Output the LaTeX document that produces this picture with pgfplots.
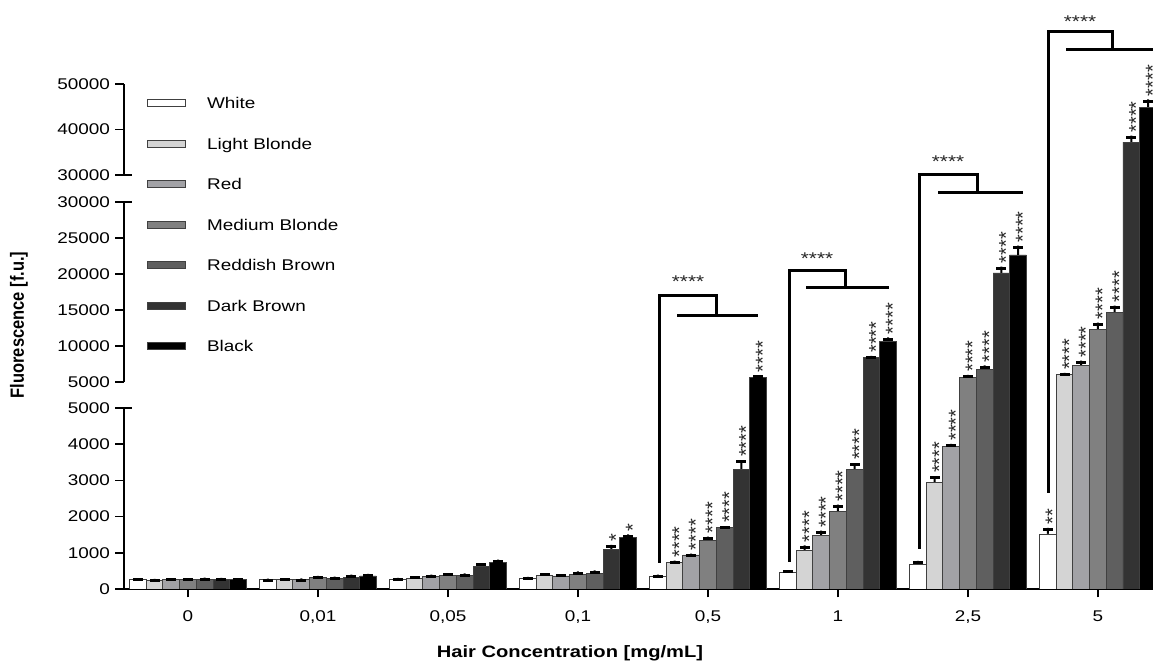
\documentclass[border=0pt]{standalone}
\usepackage{fontspec}
\setmainfont[FakeStretch=1.22]{Liberation Sans}
\newfontfamily\starfont{Liberation Sans}
\newfontfamily\boldrot{Liberation Sans Bold}
\usepackage{graphicx}
\usepackage{pgfplots}
\usepackage{pgfplotstable}
\pgfplotsset{compat=1.18}

\definecolor{cW}{HTML}{FFFFFF}
\definecolor{cLB}{HTML}{D4D4D4}
\definecolor{cR}{HTML}{A2A2A6}
\definecolor{cMB}{HTML}{808080}
\definecolor{cRB}{HTML}{5F5F5F}
\definecolor{cDB}{HTML}{333333}
\definecolor{cBK}{HTML}{000000}
\definecolor{edge}{HTML}{404040}

% broken y axis: 0-5000 | 5000-30000 | 30000-50000
\pgfplotsset{
  y coord trafo/.code={%
    \begingroup
    \pgfkeys{/pgf/fpu=true,/pgf/fpu/output format=fixed}%
    \pgfmathparse{(#1<=5000)*(#1*0.0362)+(#1>5000)*(#1<=30000)*(207+(#1-5000)*0.0072)+(#1>30000)*(414+(#1-30000)*0.00455)}%
    \global\let\brkres\pgfmathresult
    \endgroup
    \let\pgfmathresult\brkres
  },
  mylegimg/.style={legend image code/.code={\draw[##1,/tikz/.cd,line width=0.9pt] (0pt,-3pt) rectangle (38pt,4pt);}},
  stems/.style={forget plot, fill=black, draw=none, bar width=0.0154},
  caps/.style={forget plot, draw=none, fill=none, nodes near coords={},
    every node near coord/.append style={fill=black, draw=none, minimum width=10pt, minimum height=3pt, inner sep=0pt, anchor=north}},
  stars/.style={forget plot, draw=none, fill=none, nodes near coords,
    point meta=explicit symbolic,
    every node near coord/.append style={font=\starfont\fontsize{20}{20}\selectfont, xshift=11.5pt, rotate=90, anchor=base west, inner sep=3pt, text=black!85}},
}

% columns: group index, mean, error (+), significance
\pgfplotstableread{
x y e s
0 260 40 {}
1 250 40 {}
2 265 40 {}
3 295 40 {}
4 360 40 {}
5 470 50 {}
6 690 90 {}
7 1520 170 **
}\tW
\pgfplotstableread{
x y e s
0 240 40 {}
1 260 40 {}
2 295 60 {}
3 380 60 {}
4 745 40 ****
5 1075 130 ****
6 2950 170 ****
7 6100 150 ****
}\tLB
\pgfplotstableread{
x y e s
0 250 50 {}
1 265 30 {}
2 350 50 {}
3 360 50 {}
4 940 40 ****
5 1490 120 ****
6 3950 60 ****
7 7360 600 ****
}\tR
\pgfplotstableread{
x y e s
0 250 50 {}
1 310 50 {}
2 380 60 {}
3 405 80 {}
4 1350 100 ****
5 2130 200 ****
6 5690 300 ****
7 12360 900 ****
}\tMB
\pgfplotstableread{
x y e s
0 265 50 {}
1 285 60 {}
2 380 50 {}
3 435 80 {}
4 1690 50 ****
5 3310 170 ****
6 6800 500 ****
7 14720 900 ****
}\tRB
\pgfplotstableread{
x y e s
0 265 40 {}
1 330 70 {}
2 610 100 {}
3 1080 140 *
4 3310 250 ****
5 8470 150 ****
6 20140 900 ****
7 37250 1400 ****
}\tDB
\pgfplotstableread{
x y e s
0 250 50 {}
1 360 60 {}
2 730 80 {}
3 1430 80 *
4 5690 250 ****
5 10690 500 ****
6 22640 1300 ****
7 44900 1700 ****
}\tBK

\begin{document}
\begin{tikzpicture}[font=\fontsize{15.5}{18}\selectfont]
\begin{axis}[
  at={(0pt,0pt)}, anchor=south west,
  scale only axis, width=1029pt, height=589pt,
  xmin=-0.4923, xmax=7.4231,
  ymin=0, ymax=68461.54,
  ybar, bar width=0.1286,
  axis x line*=bottom, axis y line*=left,
  x axis line style={line width=2pt, black},
  y axis line style={draw=none},
  tick align=outside, major tick length=8.5pt,
  tick style={line width=1.6pt, black},
  xtick={0,1,2,3,4,5,6,7},
  xticklabels={0,{0,01},{0,05},{0,1},{0,5},1,{2,5},5},
  ytick={0,1000,2000,3000,4000,5000,5000.5,10000,15000,20000,25000,30000,30000.5,40000,50000},
  yticklabels={0,1000,2000,3000,4000,5000,5000,10000,15000,20000,25000,30000,30000,40000,50000},
  /pgf/number format/assume math mode=true,
  x tick label style={yshift=-10pt, font=\fontsize{15.5}{18}\selectfont},
  y tick label style={xshift=-2pt, font=\fontsize{15.5}{18}\selectfont},
  every axis plot post/.append style={mylegimg},
  legend style={at={(0.02235,0.8386)}, anchor=north west, draw=none, fill=none,
    inner sep=0pt, row sep=23.8pt, font=\fontsize{15.5}{18}\selectfont,
    /tikz/every odd column/.append style={column sep=19pt}},
  legend cell align=left,
]
% error bar stems (hidden below bar tops)
\addplot[stems, bar shift=-0.3857] table[x=x, y expr=\thisrow{y}+\thisrow{e}]{\tW};
\addplot[stems, bar shift=-0.2571] table[x=x, y expr=\thisrow{y}+\thisrow{e}]{\tLB};
\addplot[stems, bar shift=-0.1286] table[x=x, y expr=\thisrow{y}+\thisrow{e}]{\tR};
\addplot[stems, bar shift=0] table[x=x, y expr=\thisrow{y}+\thisrow{e}]{\tMB};
\addplot[stems, bar shift=0.1286] table[x=x, y expr=\thisrow{y}+\thisrow{e}]{\tRB};
\addplot[stems, bar shift=0.2571] table[x=x, y expr=\thisrow{y}+\thisrow{e}]{\tDB};
\addplot[stems, bar shift=0.3857] table[x=x, y expr=\thisrow{y}+\thisrow{e}]{\tBK};
% bars
\addplot[fill=cW, draw=edge, line width=0.9pt, bar shift=-0.3857] table[x=x,y=y]{\tW};
\addlegendentry{White}
\addplot[fill=cLB, draw=edge, line width=0.9pt, bar shift=-0.2571] table[x=x,y=y]{\tLB};
\addlegendentry{Light Blonde}
\addplot[fill=cR, draw=edge, line width=0.9pt, bar shift=-0.1286] table[x=x,y=y]{\tR};
\addlegendentry{Red}
\addplot[fill=cMB, draw=edge, line width=0.9pt, bar shift=0] table[x=x,y=y]{\tMB};
\addlegendentry{Medium Blonde}
\addplot[fill=cRB, draw=edge, line width=0.9pt, bar shift=0.1286] table[x=x,y=y]{\tRB};
\addlegendentry{Reddish Brown}
\addplot[fill=cDB, draw=edge, line width=0.9pt, bar shift=0.2571] table[x=x,y=y]{\tDB};
\addlegendentry{Dark Brown}
\addplot[fill=cBK, draw=edge, line width=0.9pt, bar shift=0.3857] table[x=x,y=y]{\tBK};
\addlegendentry{Black}
% error bar caps
\addplot[caps, bar shift=-0.3857] table[x=x, y expr=\thisrow{y}+\thisrow{e}]{\tW};
\addplot[caps, bar shift=-0.2571] table[x=x, y expr=\thisrow{y}+\thisrow{e}]{\tLB};
\addplot[caps, bar shift=-0.1286] table[x=x, y expr=\thisrow{y}+\thisrow{e}]{\tR};
\addplot[caps, bar shift=0] table[x=x, y expr=\thisrow{y}+\thisrow{e}]{\tMB};
\addplot[caps, bar shift=0.1286] table[x=x, y expr=\thisrow{y}+\thisrow{e}]{\tRB};
\addplot[caps, bar shift=0.2571] table[x=x, y expr=\thisrow{y}+\thisrow{e}]{\tDB};
\addplot[caps, bar shift=0.3857] table[x=x, y expr=\thisrow{y}+\thisrow{e}]{\tBK};
% significance stars
\addplot[stars, bar shift=-0.3857] table[x=x, y expr=\thisrow{y}+\thisrow{e}, meta=s]{\tW};
\addplot[stars, bar shift=-0.2571] table[x=x, y expr=\thisrow{y}+\thisrow{e}, meta=s]{\tLB};
\addplot[stars, bar shift=-0.1286] table[x=x, y expr=\thisrow{y}+\thisrow{e}, meta=s]{\tR};
\addplot[stars, bar shift=0] table[x=x, y expr=\thisrow{y}+\thisrow{e}, meta=s]{\tMB};
\addplot[stars, bar shift=0.1286] table[x=x, y expr=\thisrow{y}+\thisrow{e}, meta=s]{\tRB};
\addplot[stars, bar shift=0.2571] table[x=x, y expr=\thisrow{y}+\thisrow{e}, meta=s]{\tDB};
\addplot[stars, bar shift=0.3857] table[x=x, y expr=\thisrow{y}+\thisrow{e}, meta=s]{\tBK};
\end{axis}

\begin{scope}[x=1pt, y=1pt]
  % broken y axis segments
  \draw[line width=2pt, black] (0,0) -- (0,181);
  \draw[line width=2pt, black] (0,207) -- (0,387);
  \draw[line width=2pt, black] (0,414) -- (0,505);
  \draw[line width=1.6pt, black] (0,181) -- (8,181);
  \draw[line width=1.6pt, black] (0,387) -- (8,387);
  \draw[line width=1.6pt, black] (0,414) -- (8,414);
  % comparison brackets
  \begin{scope}[line width=3pt, black, line cap=butt, line join=miter]
    \draw (535,26) -- (535,293) -- (592,293) -- (592,273);
    \draw (553,273) -- (634,273);
    \draw (665,27) -- (665,318) -- (721,318) -- (721,301);
    \draw (682,301) -- (765,301);
    \draw (795,40) -- (795,414) -- (853,414) -- (853,396);
    \draw (814,396) -- (899,396);
    \draw (924,96) -- (924,557) -- (988,557) -- (988,539);
    \draw (942,539) -- (1030,539);
  \end{scope}
  \begin{scope}[every node/.style={anchor=base, inner sep=0pt, font=\fontsize{17}{17}\selectfont, text=black!85}]
    \node at (564,301) {****};
    \node at (693,324) {****};
    \node at (824,421) {****};
    \node at (956,561) {****};
  \end{scope}
  % axis titles
  \node[rotate=90, inner sep=0pt] at (-105,264) {\scalebox{1}[1.16]{\boldrot\fontsize{16.5}{18}\selectfont Fluorescence [f.u.]}};
  \node[inner sep=0pt] at (446,-64) {\bfseries\fontsize{16.5}{18}\selectfont Hair Concentration [mg/mL]};
  \pgfresetboundingbox
  \useasboundingbox (-124,-77) rectangle (1029,589);
\end{scope}
\end{tikzpicture}
\end{document}
